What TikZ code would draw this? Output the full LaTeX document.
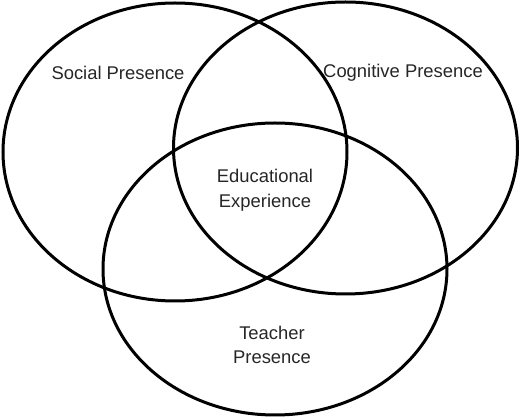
\documentclass[tikz,border=0pt]{standalone}
\usepackage{fontspec}
\setmainfont{Liberation Sans}
\begin{document}
\begin{tikzpicture}[x=1pt,y=-1pt,
  circ/.style={draw=black,line width=3pt},
  lbl/.style={font=\fontsize{18.4}{24.5}\selectfont,text=black!85,align=center,inner sep=0pt}]
\useasboundingbox (0,0) rectangle (520,419);
\draw[circ] (175,152) ellipse [x radius=172, y radius=149];
\draw[circ] (345.5,148) ellipse [x radius=172, y radius=146];
\draw[circ] (275,269) ellipse [x radius=172, y radius=146];
\node[lbl] (social) at (118,73) {Social Presence};
\node[lbl] (cog) at (403,73) {Cognitive Presence};
\node[lbl] (edu) at (265,190) {Educational\\Experience};
\node[lbl] (teach) at (272,345) {Teacher\\Presence};
\end{tikzpicture}
\end{document}
